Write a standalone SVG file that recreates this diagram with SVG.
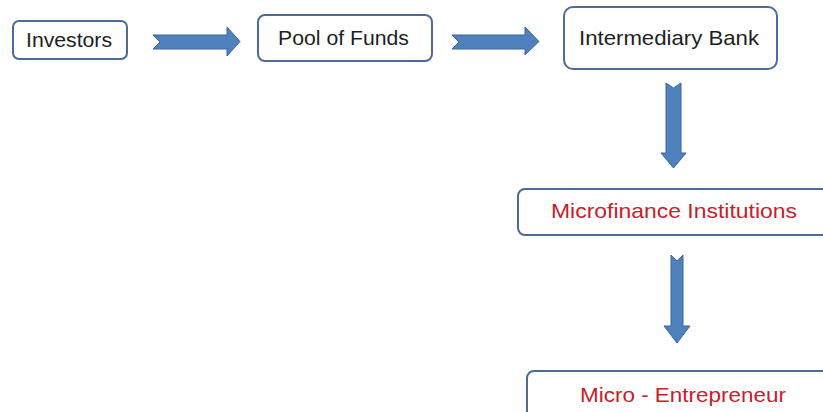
<svg xmlns="http://www.w3.org/2000/svg" width="823" height="412" viewBox="0 0 823 412">
  <defs>
    <style>
      .box { fill: #ffffff; stroke: #4a6b9c; stroke-width: 2; }
      .lbl { font-family: "Liberation Sans", Arial, sans-serif; font-size: 21px; text-anchor: middle; fill: #1e1e1e; }
      .red { fill: #c8202b; }
      .arrow { fill: #4f81bd; stroke: #3a64a0; stroke-width: 1; }
    </style>
  </defs>
  <rect width="823" height="412" fill="#ffffff"/>

  <g id="connectors">
    <!-- Investors to Pool of Funds -->
    <path class="arrow" d="M153,35 L227,35 L227,27 L240,41.5 L227,56 L227,49 L153,49 L160,42 Z"/>
    <!-- Pool of Funds to Intermediary Bank -->
    <path class="arrow" d="M452,35 L525,35 L525,27 L539,41.5 L525,55 L525,49 L452,49 L459,42 Z"/>
    <!-- Intermediary Bank to Microfinance Institutions -->
    <path class="arrow" d="M666,83 L673.5,88 L681,83 L681,153 L686,153 L673.5,168 L661,153 L666,153 Z"/>
    <!-- Microfinance Institutions to Micro-Entrepreneur -->
    <path class="arrow" d="M671,255 L677,261 L683,255 L683,326 L690,326 L677,343 L664,326 L671,326 Z"/>
  </g>

  <g id="investors">
    <rect class="box" x="13" y="21" width="114" height="38" rx="6"/>
    <text class="lbl" x="69" y="47" textLength="86" lengthAdjust="spacingAndGlyphs">Investors</text>
  </g>

  <g id="pool-of-funds">
    <rect class="box" x="258" y="15" width="174" height="46" rx="7"/>
    <text class="lbl" x="343.5" y="45" textLength="131" lengthAdjust="spacingAndGlyphs">Pool of Funds</text>
  </g>

  <g id="intermediary-bank">
    <rect class="box" x="564" y="7" width="213" height="62" rx="9"/>
    <text class="lbl" x="669" y="45" textLength="180" lengthAdjust="spacingAndGlyphs">Intermediary Bank</text>
  </g>

  <g id="microfinance-institutions">
    <rect class="box" x="518" y="189" width="330" height="46" rx="7"/>
    <text class="lbl red" x="674" y="218" textLength="246" lengthAdjust="spacingAndGlyphs">Microfinance Institutions</text>
  </g>

  <g id="micro-entrepreneur">
    <rect class="box" x="527" y="371" width="330" height="60" rx="7"/>
    <text class="lbl red" x="683" y="402" textLength="206" lengthAdjust="spacingAndGlyphs">Micro - Entrepreneur</text>
  </g>
</svg>
